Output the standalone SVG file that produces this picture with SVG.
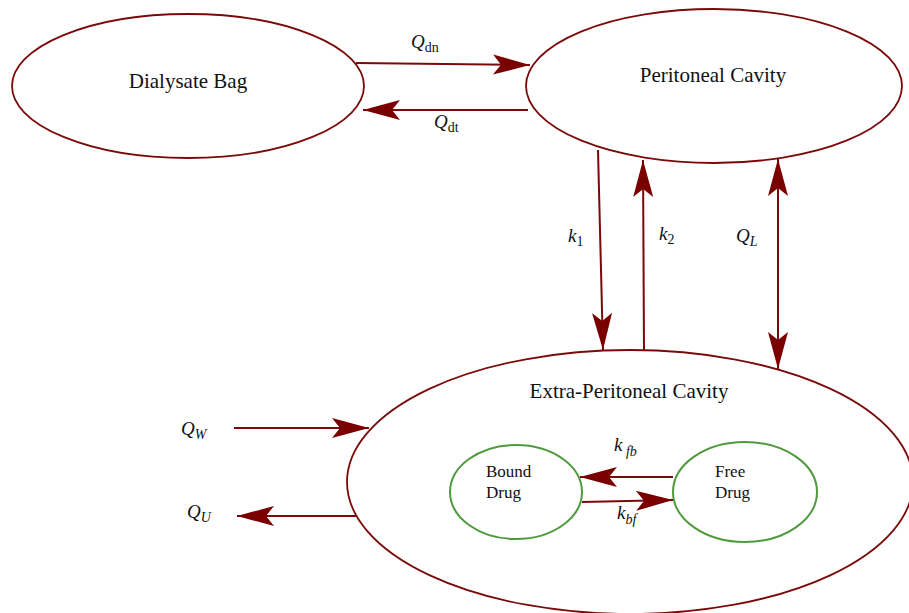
<svg xmlns="http://www.w3.org/2000/svg" width="909" height="613" viewBox="0 0 909 613">
<style>
.node{fill:#fff;stroke:#7a0a0a;stroke-width:1.8}
.inner{fill:#fff;stroke:#4f9a3c;stroke-width:2}
.edge{fill:none;stroke:#7a0a0a;stroke-width:2}
.t{font-family:"Liberation Serif","Times New Roman",serif;font-size:21px;fill:#111;text-anchor:middle}
.ts{font-family:"Liberation Serif","Times New Roman",serif;font-size:17px;fill:#111}
.lab{font-family:"Liberation Serif","Times New Roman",serif;font-size:19px;fill:#111;font-style:italic}
.sub{font-size:14px}
</style>
<defs>
<marker id="ah" markerUnits="userSpaceOnUse" markerWidth="40" markerHeight="24" refX="0" refY="0" orient="auto-start-reverse" overflow="visible">
<path d="M0,0 L-37,-10 L-29,0 L-37,10 Z" fill="#7a0000"/>
</marker>
</defs>
<rect width="909" height="613" fill="#fff"/>
<g id="dialysate-bag">
<ellipse class="node" cx="188" cy="86" rx="176" ry="72"/>
<text class="t" x="188" y="88">Dialysate Bag</text>
</g>
<g id="peritoneal-cavity">
<ellipse class="node" cx="714" cy="86" rx="188" ry="77"/>
<text class="t" x="713" y="82">Peritoneal Cavity</text>
</g>
<g id="extra-peritoneal-cavity">
<ellipse class="node" cx="630" cy="482" rx="283" ry="132"/>
<text class="t" x="629" y="398">Extra-Peritoneal Cavity</text>
</g>
<g id="bound-drug">
<ellipse class="inner" cx="516" cy="492" rx="66" ry="47"/>
<text class="ts" x="486" y="477">Bound</text>
<text class="ts" x="486" y="498">Drug</text>
</g>
<g id="free-drug">
<ellipse class="inner" cx="745" cy="492" rx="72" ry="50"/>
<text class="ts" x="715" y="477">Free</text>
<text class="ts" x="715" y="498">Drug</text>
</g>
<g id="connectors">
<line class="edge" x1="356" y1="63" x2="530" y2="65" marker-end="url(#ah)"/>
<line class="edge" x1="528" y1="110" x2="363" y2="110" marker-end="url(#ah)"/>
<line class="edge" x1="598" y1="150" x2="603" y2="350" marker-end="url(#ah)"/>
<line class="edge" x1="644" y1="350" x2="643" y2="160" marker-end="url(#ah)"/>
<line class="edge" x1="778" y1="159" x2="778" y2="369" marker-start="url(#ah)" marker-end="url(#ah)"/>
<line class="edge" x1="234" y1="428" x2="369" y2="428" marker-end="url(#ah)"/>
<line class="edge" x1="357" y1="516" x2="237" y2="516" marker-end="url(#ah)"/>
<line class="edge" x1="673" y1="477" x2="580" y2="477" marker-end="url(#ah)"/>
<line class="edge" x1="582" y1="502" x2="673" y2="500" marker-end="url(#ah)"/>
</g>
<g id="labels">
<text class="lab" x="411" y="48">Q<tspan class="sub" font-style="normal" dy="4">dn</tspan></text>
<text class="lab" x="434" y="128">Q<tspan class="sub" font-style="normal" dy="4">dt</tspan></text>
<text class="lab" x="568" y="242">k<tspan class="sub" font-style="normal" dy="4">1</tspan></text>
<text class="lab" x="659" y="240">k<tspan class="sub" font-style="normal" dy="4">2</tspan></text>
<text class="lab" x="736" y="242">Q<tspan class="sub" dy="4">L</tspan></text>
<text class="lab" x="181" y="435">Q<tspan class="sub" dy="4">W</tspan></text>
<text class="lab" x="187" y="518">Q<tspan class="sub" dy="4">U</tspan></text>
<text class="lab" x="614" y="451">k<tspan class="sub" dy="5"> fb</tspan></text>
<text class="lab" x="617" y="519">k<tspan class="sub" dy="5">bf</tspan></text>
</g>
</svg>
